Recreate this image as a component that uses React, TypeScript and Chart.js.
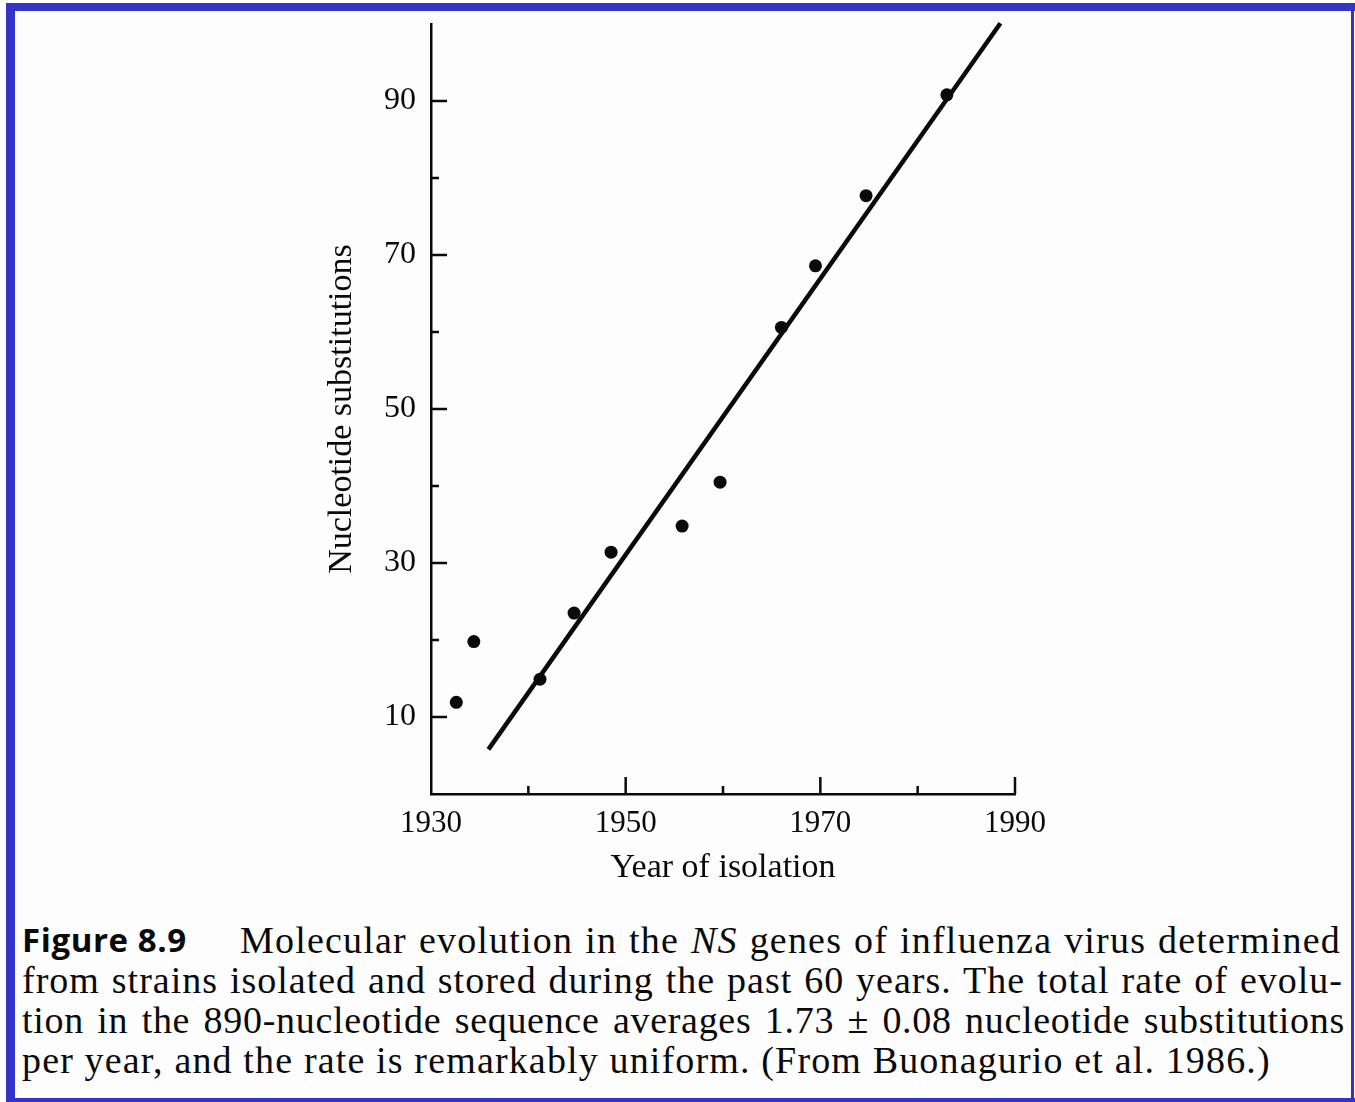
import React, { useEffect, useRef } from "react";
import { Chart, registerables } from "chart.js";

Chart.register(...registerables);

// ---- data ----
const YEARS = [1932.6, 1934.4, 1941.2, 1944.7, 1948.5, 1955.8, 1959.7, 1966.0, 1969.5, 1974.7, 1983.0];
const SUBSTITUTIONS = [11.9, 19.8, 14.9, 23.5, 31.4, 34.8, 40.5, 60.6, 68.6, 77.7, 90.8];
const FIT_YEARS = [1935.9, 1988.5];
const FIT_VALUES = [5.8, 100.1];
const X_TICK_LABELS = [1930, 1950, 1970, 1990];
const X_MAJOR_TICKS = [1950, 1970, 1990];
const X_MINOR_TICKS = [1940, 1960, 1980];
const Y_TICK_LABELS = [10, 30, 50, 70, 90];
const Y_MINOR_TICKS = [20, 40, 60, 80];

const SERIF = "'Liberation Serif', 'Times New Roman', serif";
const INK = "#0a0a0a";
const BLUE = "#3434c8";

const innerTicks = {
  id: "innerTicks",
  afterDatasetsDraw(chart: any) {
    const { ctx, scales } = chart;
    const x = scales.x;
    const y = scales.y;
    const left = x.left;
    const bottom = y.bottom;
    ctx.save();
    ctx.strokeStyle = INK;
    ctx.lineWidth = 2.5;
    ctx.lineCap = "butt";
    const seg = (x1: number, y1: number, x2: number, y2: number) => {
      ctx.beginPath();
      ctx.moveTo(x1, y1);
      ctx.lineTo(x2, y2);
      ctx.stroke();
    };
    Y_TICK_LABELS.forEach((v) => {
      const p = y.getPixelForValue(v);
      seg(left, p, left + 16, p);
    });
    Y_MINOR_TICKS.forEach((v) => {
      const p = y.getPixelForValue(v);
      seg(left, p, left + 8, p);
    });
    X_MAJOR_TICKS.forEach((v) => {
      const p = x.getPixelForValue(v);
      seg(p, bottom, p, bottom - 17);
    });
    X_MINOR_TICKS.forEach((v) => {
      const p = x.getPixelForValue(v);
      seg(p, bottom, p, bottom - 8);
    });
    ctx.restore();
  },
};

function ScatterChart() {
  const ref = useRef<HTMLCanvasElement | null>(null);
  useEffect(() => {
    if (!ref.current) return;
    const chart = new Chart(ref.current, {
      type: "scatter",
      data: {
        datasets: [
          {
            label: "Strains",
            data: YEARS.map((yr, i) => ({ x: yr, y: SUBSTITUTIONS[i] })),
            backgroundColor: INK,
            borderColor: INK,
            pointRadius: 6.5,
            pointBorderWidth: 0,
            showLine: false,
          },
          {
            label: "Fit",
            data: FIT_YEARS.map((yr, i) => ({ x: yr, y: FIT_VALUES[i] })),
            borderColor: INK,
            backgroundColor: INK,
            borderWidth: 4.5,
            pointRadius: 0,
            showLine: true,
            clip: false as any,
          },
        ],
      },
      options: {
        animation: false,
        responsive: false,
        devicePixelRatio: 1,
        layout: { padding: { left: 0, top: 24, right: 340, bottom: 0 } },
        plugins: { legend: { display: false }, tooltip: { enabled: false } },
        scales: {
          x: {
            type: "linear",
            position: "bottom",
            min: 1930,
            max: 1990,
            afterBuildTicks: (s: any) => {
              s.ticks = X_TICK_LABELS.map((v) => ({ value: v }));
            },
            afterFit: (s: any) => {
              s.height = 106;
              s.paddingLeft = 0;
              s.paddingRight = 0;
            },
            ticks: {
              padding: 11,
              maxRotation: 0,
              autoSkip: false,
              color: INK,
              font: { family: SERIF, size: 31 },
              callback: (v: any) => String(v),
            },
            grid: { display: false, drawTicks: false },
            border: { display: true, color: INK, width: 2.5 },
            title: {
              display: true,
              text: "Year of isolation",
              color: INK,
              font: { family: SERIF, size: 34 },
              padding: { top: 0, bottom: 12 },
            },
          },
          y: {
            type: "linear",
            position: "left",
            min: 0,
            max: 100,
            afterBuildTicks: (s: any) => {
              s.ticks = Y_TICK_LABELS.map((v) => ({ value: v }));
            },
            afterFit: (s: any) => {
              s.width = 431;
              s.paddingTop = 0;
              s.paddingBottom = 0;
            },
            ticks: {
              padding: 15,
              autoSkip: false,
              color: INK,
              font: { family: SERIF, size: 32 },
              callback: (v: any) => String(v),
            },
            grid: { display: false, drawTicks: false },
            border: { display: true, color: INK, width: 2.5 },
            title: {
              display: true,
              text: "Nucleotide substitutions",
              color: INK,
              font: { family: SERIF, size: 34 },
              padding: { top: 322, bottom: 0 },
            },
          },
        },
      },
      plugins: [innerTicks],
    } as any);
    return () => chart.destroy();
  }, []);
  return (
    <canvas
      ref={ref}
      width={1355}
      height={900}
      style={{ position: "absolute", left: 0, top: 0, width: 1355, height: 900 }}
    />
  );
}

const lineBase: React.CSSProperties = {
  position: "absolute",
  fontFamily: SERIF,
  fontSize: 38,
  lineHeight: "40px",
  height: 40,
  whiteSpace: "nowrap",
  color: INK,
};

export default function App() {
  return (
    <div
      style={{
        position: "absolute",
        left: 0,
        top: 0,
        width: 1355,
        height: 1102,
        background: "#fdfdfd",
        overflow: "hidden",
      }}
    >
      <ScatterChart />
      {/* blue frame */}
      <div style={{ position: "absolute", left: 6, top: 3, width: 1349, height: 8, background: BLUE }} />
      <div style={{ position: "absolute", left: 6, top: 3, width: 9, height: 1099, background: BLUE }} />
      <div style={{ position: "absolute", left: 6, top: 1098, width: 1349, height: 4, background: BLUE }} />
      <div style={{ position: "absolute", left: 1351, top: 3, width: 3, height: 1099, background: BLUE }} />
      {/* caption */}
      <div
        style={{
          position: "absolute",
          left: 22,
          top: 920,
          fontFamily: "'Open Sans', 'Noto Sans', sans-serif",
          fontWeight: 700,
          fontSize: 33,
          lineHeight: "40px",
          letterSpacing: 0.6,
          whiteSpace: "nowrap",
          color: INK,
        }}
      >
        Figure 8.9
      </div>
      <div
        style={{
          ...lineBase,
          left: 240,
          top: 920,
          width: 1101,
          textAlign: "justify",
          textAlignLast: "justify",
          letterSpacing: 1.2,
        }}
      >
        Molecular evolution in the <i>NS</i> genes of influenza virus determined
      </div>
      <div
        style={{
          ...lineBase,
          left: 22,
          top: 960,
          width: 1321,
          textAlign: "justify",
          textAlignLast: "justify",
          letterSpacing: 1.0,
        }}
      >
        from strains isolated and stored during the past 60 years. The total rate of evolu-
      </div>
      <div
        style={{
          ...lineBase,
          left: 22,
          top: 1000,
          width: 1323,
          textAlign: "justify",
          textAlignLast: "justify",
          letterSpacing: 0.7,
        }}
      >
        tion in the 890-nucleotide sequence averages 1.73 ± 0.08 nucleotide substitutions
      </div>
      <div style={{ ...lineBase, left: 22, top: 1040, letterSpacing: 1.15 }}>
        per year, and the rate is remarkably uniform. (From Buonagurio et al. 1986.)
      </div>
    </div>
  );
}
